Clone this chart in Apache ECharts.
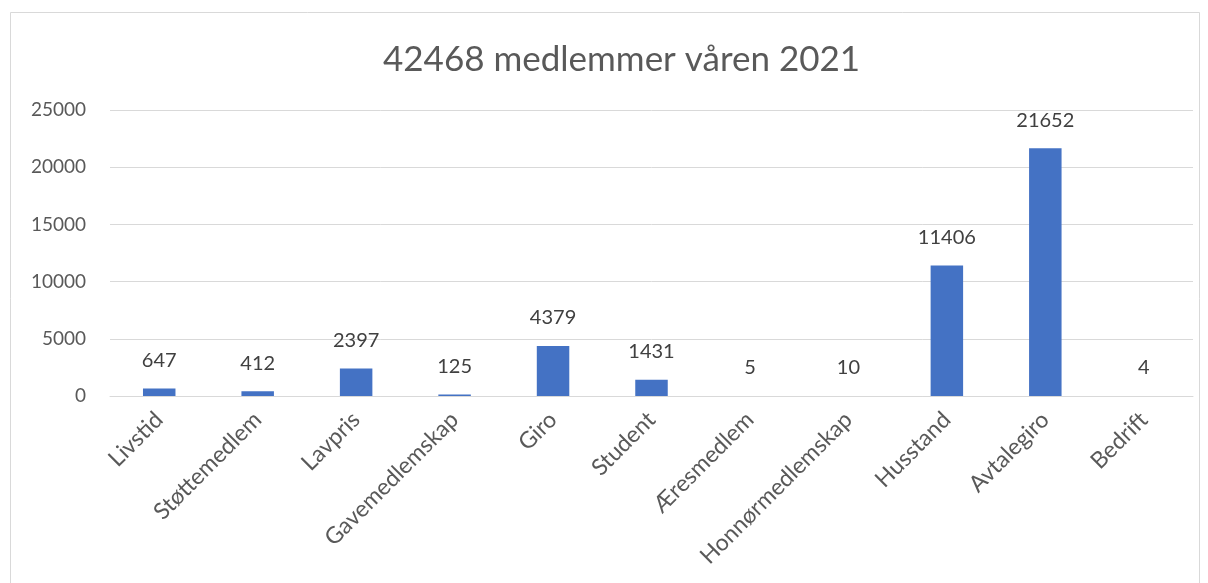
<!DOCTYPE html>
<html lang="no">
<head>
<meta charset="utf-8">
<title>medlemmer</title>
<script src="https://cdn.jsdelivr.net/npm/echarts@6/dist/echarts.min.js"></script>
<style>
  html, body { margin: 0; padding: 0; background: #fff; }
  #main { width: 1208px; height: 583px; }
</style>
</head>
<body>
<div id="main"></div>
<script>
var titleText = '42468 medlemmer våren 2021';
var categories = ['Livstid', 'Støttemedlem', 'Lavpris', 'Gavemedlemskap', 'Giro', 'Student',
                  'Æresmedlem', 'Honnørmedlemskap', 'Husstand', 'Avtalegiro', 'Bedrift'];
var members = [647, 412, 2397, 125, 4379, 1431, 5, 10, 11406, 21652, 4];
var yMax = 25000;
var yStep = 5000;

var chart = echarts.init(document.getElementById('main'));
var txt = '#595959';
var font = 'Lato, "Open Sans", sans-serif';

chart.setOption({
  backgroundColor: '#fff',
  textStyle: { fontFamily: font },
  graphic: [{
    type: 'rect',
    shape: { x: 10.5, y: 12.5, width: 1189, height: 620 },
    style: { fill: 'none', stroke: '#d9d9d9', lineWidth: 1 },
    silent: true
  }],
  title: {
    text: titleText,
    left: 378,
    top: 37,
    textStyle: { color: txt, fontSize: 35, fontWeight: 'normal', fontFamily: font }
  },
  grid: { left: 110, right: 15, top: 110, bottom: 187, containLabel: false },
  xAxis: {
    type: 'category',
    data: categories,
    axisLine: { lineStyle: { color: '#d9d9d9', width: 1 } },
    axisTick: { show: false },
    axisLabel: { rotate: 45, color: txt, fontSize: 23, margin: 20, interval: 0 }
  },
  yAxis: {
    type: 'value',
    min: 0,
    max: yMax,
    interval: yStep,
    axisLine: { show: false },
    axisTick: { show: false },
    axisLabel: { color: txt, fontSize: 19, margin: 24, formatter: function (v) { return String(v); } },
    splitLine: { lineStyle: { color: '#d9d9d9', width: 1 } }
  },
  series: [{
    type: 'bar',
    data: members,
    barWidth: '33%',
    itemStyle: { color: '#4472C4' },
    label: {
      show: true,
      position: 'top',
      distance: 18,
      color: '#404040',
      fontSize: 20,
      fontFamily: font
    },
    silent: true
  }],
  animation: false
});
</script>
</body>
</html>
